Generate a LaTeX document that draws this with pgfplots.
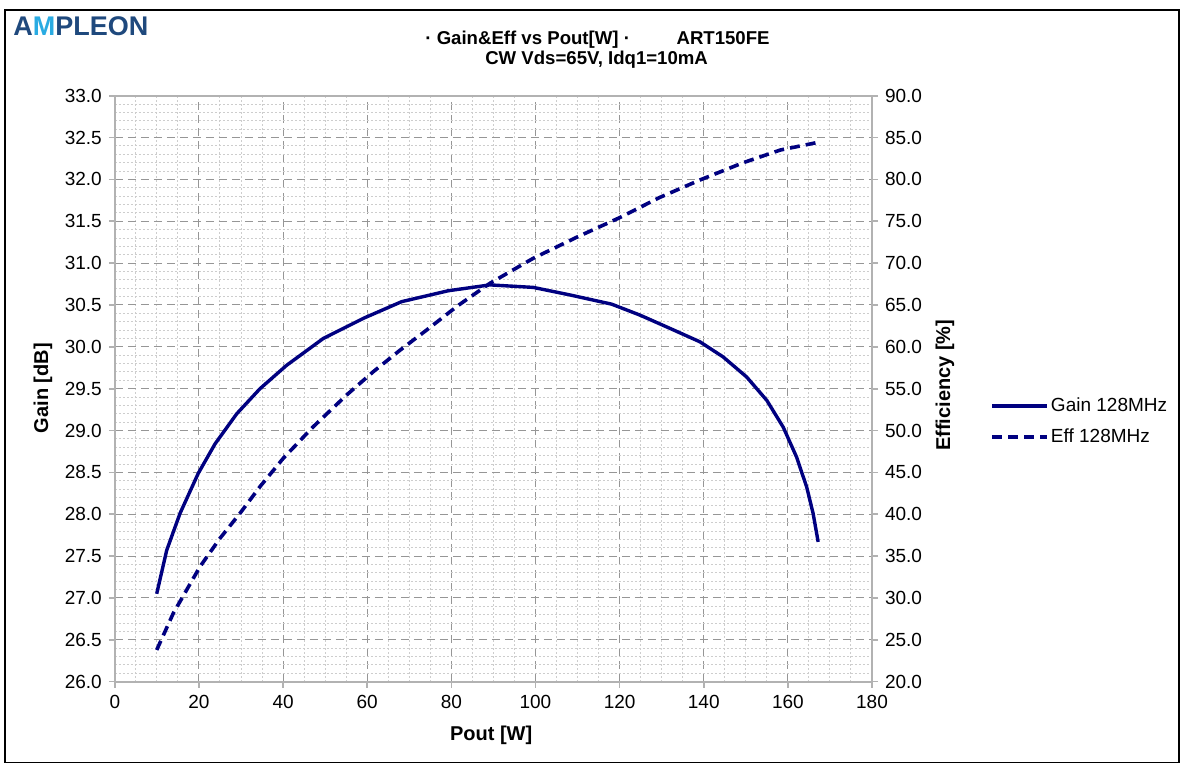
\documentclass[border=0pt]{standalone}
\usepackage{pgfplots}
\pgfplotsset{compat=1.18}
\usepackage{pgfplotstable}
\usepackage{fontspec}
\setmainfont{Liberation Sans}

\definecolor{navy}{RGB}{0,0,128}
\definecolor{axisgray}{RGB}{178,178,178}
\definecolor{majgrid}{RGB}{150,150,150}
\definecolor{mingrid}{RGB}{205,205,205}
\definecolor{logodark}{RGB}{31,73,125}
\definecolor{logolight}{RGB}{41,171,226}

% Gain 128MHz: Pout [W], Gain [dB]
\pgfplotstableread{
x gain
9.96 27.05
12.34 27.57
15.5 28.01
19.85 28.49
23.82 28.84
28.98 29.20
34.51 29.50
40.86 29.78
49.56 30.10
59.07 30.34
68.2 30.54
79.27 30.67
89.18 30.74
99.48 30.71
108.2 30.62
118.1 30.51
124.8 30.38
132.0 30.22
139.1 30.06
144.6 29.88
150.2 29.64
155.0 29.36
158.9 29.04
162.1 28.68
164.5 28.32
166.0 28.01
167.2 27.67
}\gaintab

% Eff 128MHz: Pout [W], Efficiency [%]
\pgfplotstableread{
x eff
9.96 23.79
13.9 28.17
20.25 33.74
25.0 37.13
29.76 40.12
34.51 43.30
40.05 46.69
47.18 50.46
55.12 54.25
61.44 57.03
67.8 59.60
74.14 62.01
81.5 64.90
89.18 67.59
99.48 70.58
109.8 73.09
119.7 75.36
129.6 77.86
139.1 79.93
149.4 82.00
158.2 83.51
167.2 84.43
}\efftab

\begin{document}
\begin{tikzpicture}
\useasboundingbox (-57.4pt,-41.65pt) rectangle (534.1pt,340.85pt);
\draw[black, line width=0.75pt] (-54.9pt,-40.4pt) rectangle (532.1pt,335.85pt);

\pgfplotsset{
  basestyle/.style={
    scale only axis, width=378.6pt, height=293pt,
    xmin=0, xmax=180,
    axis line style={axisgray, line width=1pt},
    tick style={axisgray, line width=0.8pt},
    tick align=outside, major tick length=3pt, minor tick length=0pt,
    ticklabel style={font=\fontsize{9.5}{11}\selectfont, text=black},
    /pgf/number format/assume math mode=true,
    label style={font=\fontsize{10}{12}\selectfont\bfseries},
  },
}

\begin{axis}[basestyle,
  ymin=26, ymax=33, ytick distance=0.5, minor y tick num=4,
  xtick distance=20, minor x tick num=3,
  grid=both,
  major grid style={majgrid, dash pattern=on 4pt off 2.5pt, line width=0.5pt},
  minor grid style={mingrid, dash pattern=on 1pt off 1pt, line width=0.5pt},
  xtick pos=bottom, ytick pos=left,
  yticklabel style={/pgf/number format/fixed, /pgf/number format/fixed zerofill, /pgf/number format/precision=1},
  xlabel={Pout [W]},
  xlabel style={at={(axis description cs:0.497,-0.091)}, anchor=center},
  ylabel={Gain [dB]},
  ylabel style={at={(axis description cs:-0.0948,0.501)}, anchor=center},
]
\addplot[navy, line width=1.7pt, line join=round] table[x=x, y=gain] {\gaintab};
\end{axis}

\begin{axis}[basestyle,
  ymin=20, ymax=90, ytick distance=5,
  axis x line=none, axis y line*=right, ytick pos=right,
  yticklabel style={/pgf/number format/fixed, /pgf/number format/fixed zerofill, /pgf/number format/precision=1},
  ylabel={Efficiency [\%]},
  ylabel style={at={(axis description cs:1.0964,0.506)}, anchor=center},
  legend style={at={(axis description cs:1.1558,0.444)}, anchor=west,
    draw=none, fill=none, inner sep=0pt, row sep=5pt,
    font=\fontsize{9.5}{11}\selectfont,
    nodes={inner sep=1pt}},
  legend cell align=left,
  legend image code/.code={\draw[#1] (0pt,0pt) -- (27.5pt,0pt);},
]
\addlegendimage{navy, line width=1.7pt}
\addlegendentry{Gain 128MHz}
\addplot[navy, line width=1.8pt, dash pattern=on 5pt off 3pt] table[x=x, y=eff] {\efftab};
\addlegendentry{Eff 128MHz}
\end{axis}

% logo and title
\node[anchor=base west, inner sep=0pt, font=\fontsize{13.5}{16}\selectfont\bfseries, text=logodark]
  at (-50.9pt,322.85pt) {A\textcolor{logolight}{M}PLEON};
\node[anchor=base west, inner sep=0pt, font=\fontsize{9.3}{11}\selectfont\bfseries]
  at (155.1pt,318.35pt) {· Gain\&Eff vs Pout[W] ·};
\node[anchor=base east, inner sep=0pt, font=\fontsize{9.3}{11}\selectfont\bfseries]
  at (327.6pt,318.35pt) {ART150FE};
\node[anchor=base, inner sep=0pt, font=\fontsize{9.3}{11}\selectfont\bfseries]
  at (240.9pt,308.7pt) {CW Vds=65V, Idq1=10mA};
\end{tikzpicture}
\end{document}
